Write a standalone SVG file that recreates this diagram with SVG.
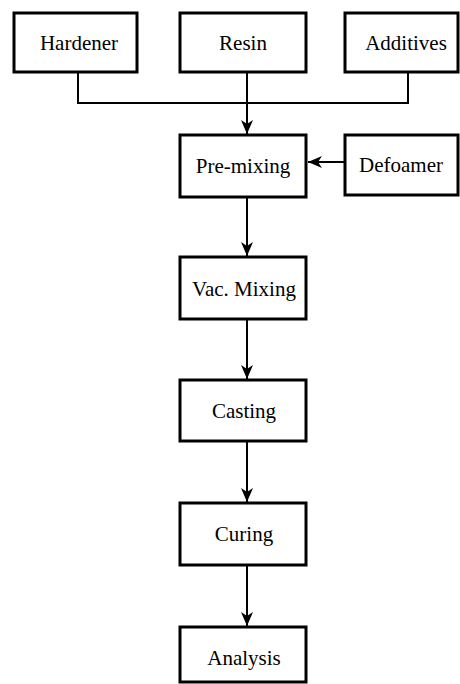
<svg xmlns="http://www.w3.org/2000/svg" width="460" height="684" viewBox="0 0 460 684">
<style>
.box{fill:#fff;stroke:#000;stroke-width:3}
.lbl{font-family:"Liberation Serif","Times New Roman",serif;font-size:21px;fill:#000;text-anchor:middle}
.ln{fill:none;stroke:#000;stroke-width:2}
</style>
<defs>
<marker id="ah" viewBox="0 0 14 12" refX="14" refY="6" markerWidth="14" markerHeight="12" markerUnits="userSpaceOnUse" orient="auto">
<path d="M0,0 L14,6 L0,12 L4,6 z" fill="#000"/>
</marker>
</defs>
<rect width="460" height="684" fill="#fff"/>
<g id="connectors">
<path class="ln" d="M78,72 V103 H408 V72"/>
<path class="ln" d="M247,72 V134" marker-end="url(#ah)"/>
<path class="ln" d="M345,162 H308" marker-end="url(#ah)"/>
<path class="ln" d="M247,197 V256" marker-end="url(#ah)"/>
<path class="ln" d="M247,319 V379" marker-end="url(#ah)"/>
<path class="ln" d="M247,441 V502" marker-end="url(#ah)"/>
<path class="ln" d="M247,565 V626" marker-end="url(#ah)"/>
</g>
<g id="hardener"><rect class="box" x="14" y="13" width="123" height="59"/><text class="lbl" x="79" y="50">Hardener</text></g>
<g id="resin"><rect class="box" x="180" y="13" width="126" height="59"/><text class="lbl" x="243" y="50">Resin</text></g>
<g id="additives"><rect class="box" x="345" y="13" width="113" height="59"/><text class="lbl" x="406" y="50">Additives</text></g>
<g id="premixing"><rect class="box" x="180" y="135" width="126" height="62"/><text class="lbl" x="243" y="173">Pre-mixing</text></g>
<g id="defoamer"><rect class="box" x="345" y="135" width="113" height="60"/><text class="lbl" x="401" y="172">Defoamer</text></g>
<g id="vacmixing"><rect class="box" x="180" y="257" width="126" height="62"/><text class="lbl" x="244" y="296">Vac. Mixing</text></g>
<g id="casting"><rect class="box" x="180" y="380" width="126" height="61"/><text class="lbl" x="244" y="418">Casting</text></g>
<g id="curing"><rect class="box" x="180" y="503" width="126" height="62"/><text class="lbl" x="244" y="541">Curing</text></g>
<g id="analysis"><rect class="box" x="180" y="627" width="126" height="55"/><text class="lbl" x="244" y="665">Analysis</text></g>
</svg>
